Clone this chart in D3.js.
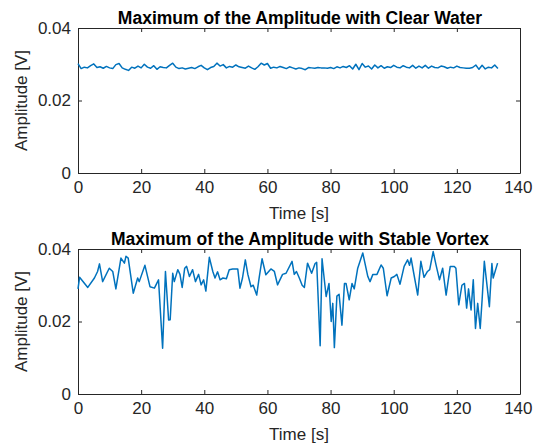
<!DOCTYPE html>
<html>
<head>
<meta charset="utf-8">
<script src="https://cdn.jsdelivr.net/npm/d3@7"></script>
<style>
  html, body { margin: 0; padding: 0; background: #fff; }
  svg { display: block; font-family: "Liberation Sans", Arial, Helvetica, sans-serif; }
</style>
</head>
<body>
<svg id="chart"></svg>
<script>
// Clear water: max amplitude sampled about once per second
const clearTime = d3.range(0, 134);
const clearAmp = [
  0.0302, 0.0288, 0.0292, 0.0290, 0.0296, 0.0301, 0.0291, 0.0293, 0.0289, 0.0294,
  0.0290, 0.0288, 0.0299, 0.0302, 0.0290, 0.0286, 0.0283, 0.0292, 0.0289, 0.0295,
  0.0290, 0.0300, 0.0292, 0.0289, 0.0296, 0.0286, 0.0293, 0.0291, 0.0290, 0.0297,
  0.0303, 0.0292, 0.0288, 0.0290, 0.0287, 0.0289, 0.0291, 0.0288, 0.0293, 0.0297,
  0.0290, 0.0285, 0.0291, 0.0294, 0.0303, 0.0295, 0.0299, 0.0290, 0.0294, 0.0292,
  0.0298, 0.0293, 0.0291, 0.0289, 0.0295, 0.0290, 0.0286, 0.0293, 0.0303, 0.0298,
  0.0302, 0.0289, 0.0292, 0.0290, 0.0294, 0.0291, 0.0288, 0.0293, 0.0290, 0.0287,
  0.0290, 0.0288, 0.0285, 0.0291, 0.0290, 0.0289, 0.0291, 0.0290, 0.0290, 0.0289,
  0.0291, 0.0288, 0.0293, 0.0290, 0.0294, 0.0291, 0.0296, 0.0287, 0.0300, 0.0285,
  0.0302, 0.0292, 0.0295, 0.0287, 0.0298, 0.0290, 0.0296, 0.0289, 0.0293, 0.0291,
  0.0297, 0.0292, 0.0290, 0.0296, 0.0292, 0.0290, 0.0297, 0.0289, 0.0295, 0.0290,
  0.0297, 0.0289, 0.0295, 0.0291, 0.0290, 0.0295, 0.0293, 0.0289, 0.0292, 0.0290,
  0.0295, 0.0291, 0.0290, 0.0289, 0.0289, 0.0291, 0.0298, 0.0286, 0.0297, 0.0287,
  0.0292, 0.0290, 0.0298, 0.0288
];

// Stable vortex: traced vertices (time in s, amplitude in V)
const vortexTime = [
  0, 0.5, 3.1, 5.2, 6.2, 6.8, 7.8, 9.9, 11, 12, 13.6, 14.7, 15.2, 15.9, 17.5, 18.9, 19.4,
  21.2, 22.8, 24.2, 25.5, 26.8, 27.7, 28.7, 29.2, 30, 30.5, 31.6, 32.3, 33, 33.8, 34.4,
  35.3, 36.3, 37.2, 38.2, 39, 39.8, 40.5, 41.6, 42.7, 43.4, 44.2, 45, 45.9, 47, 47.9, 49,
  50.6, 51.3, 52.1, 53, 53.8, 54.8, 55.5, 56.6, 57.4, 58.3, 59.5, 61.1, 62.2, 63.2, 64.8,
  65.9, 67.8, 68.5, 69.2, 70.1, 71, 71.7, 72.7, 74, 75.1, 75.6, 76.7, 77.3, 78.6, 79.5,
  80.2, 80.7, 81.2, 82, 82.7, 83.6, 84.4, 84.9, 85.9, 86.8, 87.5, 88.6, 90.2, 91.8, 92.5,
  93.4, 94.7, 96, 96.7, 97.9, 99.2, 100.2, 101, 102, 103.3, 104.4, 105, 105.5, 106.2,
  107.6, 108.6, 109.6, 110.7, 111.4, 112.5, 113.4, 114.5, 115.5, 116.6, 117.9, 119.2,
  119.7, 120.6, 121.6, 122.4, 123.1, 123.7, 124.5, 125.2, 125.9, 126.6, 127.4, 128,
  128.7, 130.3, 131.1, 131.5, 132.9
];
const vortexAmp = [
  0.0290, 0.0322, 0.0294, 0.0320, 0.0338, 0.0359, 0.0310, 0.0347, 0.0338, 0.0290, 0.0375,
  0.0361, 0.0380, 0.0375, 0.0278, 0.0320, 0.0310, 0.0355, 0.0296, 0.0292, 0.0315, 0.0126,
  0.0338, 0.0204, 0.0205, 0.0333, 0.0310, 0.0343, 0.0330, 0.0294, 0.0347, 0.0352, 0.0324,
  0.0343, 0.0310, 0.0330, 0.0301, 0.0315, 0.0284, 0.0377, 0.0338, 0.0320, 0.0337, 0.0315,
  0.0320, 0.0318, 0.0343, 0.0345, 0.0345, 0.0292, 0.0320, 0.0370, 0.0330, 0.0296, 0.0300,
  0.0273, 0.0322, 0.0373, 0.0329, 0.0345, 0.0338, 0.0301, 0.0330, 0.0333, 0.0366, 0.0330,
  0.0338, 0.0320, 0.0300, 0.0294, 0.0361, 0.0333, 0.0360, 0.0363, 0.0133, 0.0373, 0.0269,
  0.0305, 0.0200, 0.0250, 0.0128, 0.0270, 0.0275, 0.0190, 0.0305, 0.0305, 0.0260, 0.0305,
  0.0290, 0.0347, 0.0389, 0.0324, 0.0310, 0.0330, 0.0330, 0.0356, 0.0347, 0.0271, 0.0320,
  0.0324, 0.0330, 0.0303, 0.0352, 0.0370, 0.0355, 0.0375, 0.0340, 0.0273, 0.0366, 0.0322,
  0.0338, 0.0343, 0.0393, 0.0356, 0.0315, 0.0347, 0.0273, 0.0352, 0.0352, 0.0347, 0.0246,
  0.0300, 0.0305, 0.0237, 0.0290, 0.0232, 0.0315, 0.0181, 0.0250, 0.0181, 0.0260, 0.0366,
  0.0241, 0.0360, 0.0320, 0.0361
];

const xTicks = [0, 20, 40, 60, 80, 100, 120, 140];
const yTicks = [0, 0.02, 0.04];
const titles = [
  'Maximum of the Amplitude with Clear Water',
  'Maximum of the Amplitude with Stable Vortex'
];

const W = 533, H = 448;
const axisColor = '#262626';
const lineColor = '#0072BD';

const svg = d3.select('#chart').attr('width', W).attr('height', H);

// Two stacked panels, same axes
const panels = [
  { top: 28, bottom: 173, time: clearTime, amp: clearAmp, title: titles[0] },
  { top: 249, bottom: 394, time: vortexTime, amp: vortexAmp, title: titles[1] }
];
const left = 78, right = 520;

const yFmt = d => d === 0 ? '0' : d3.format('.2f')(d);

panels.forEach(p => {
  const x = d3.scaleLinear().domain([0, 140]).range([left, right]);
  const y = d3.scaleLinear().domain([0, 0.04]).range([p.bottom, p.top]);
  const g = svg.append('g');

  // inward ticks on all four sides, like MATLAB box on
  const tk = 4;
  const styleAxis = sel => {
    sel.select('.domain').attr('stroke', axisColor).attr('stroke-width', 1);
    sel.selectAll('.tick line').attr('stroke', axisColor);
    sel.selectAll('.tick text').attr('fill', axisColor).style('font-size', '17px');
  };

  g.append('g')
    .attr('transform', `translate(0,${p.bottom})`)
    .call(d3.axisBottom(x).tickValues(xTicks).tickSize(-tk).tickSizeOuter(0))
    .call(styleAxis)
    .call(s => s.selectAll('.tick text').attr('dy', '0.71em').attr('y', 8))
    // last label would run past the page edge; pull it in just enough
    .call(s => s.selectAll('.tick text').filter(d => d === 140)
      .attr('text-anchor', 'end').attr('x', W - right - 1));

  g.append('g')
    .attr('transform', `translate(0,${p.top})`)
    .call(d3.axisTop(x).tickValues(xTicks).tickSize(-tk).tickSizeOuter(0).tickFormat(''))
    .call(styleAxis);

  g.append('g')
    .attr('transform', `translate(${left},0)`)
    .call(d3.axisLeft(y).tickValues(yTicks).tickSize(-tk).tickSizeOuter(0).tickFormat(yFmt))
    .call(styleAxis)
    .call(s => s.selectAll('.tick text').attr('x', -7));

  g.append('g')
    .attr('transform', `translate(${right},0)`)
    .call(d3.axisRight(y).tickValues(yTicks).tickSize(-tk).tickSizeOuter(0).tickFormat(''))
    .call(styleAxis);

  const line = d3.line()
    .x((d, i) => x(p.time[i]))
    .y(d => y(d));

  g.append('path')
    .datum(p.amp)
    .attr('fill', 'none')
    .attr('stroke', lineColor)
    .attr('stroke-width', 1.5)
    .attr('stroke-linejoin', 'round')
    .attr('d', line);

  g.append('text')
    .attr('x', (left + right) / 2 + 1)
    .attr('y', p.top - 4)
    .attr('text-anchor', 'middle')
    .attr('fill', '#000')
    .style('font-size', '17.5px')
    .style('font-weight', 'bold')
    .text(p.title);

  g.append('text')
    .attr('x', (left + right) / 2)
    .attr('y', p.bottom + 46)
    .attr('text-anchor', 'middle')
    .attr('fill', axisColor)
    .style('font-size', '17px')
    .text('Time [s]');

  g.append('text')
    .attr('transform', `translate(27,${(p.top + p.bottom) / 2}) rotate(-90)`)
    .attr('text-anchor', 'middle')
    .attr('fill', axisColor)
    .style('font-size', '17px')
    .text('Amplitude [V]');
});
</script>
</body>
</html>
